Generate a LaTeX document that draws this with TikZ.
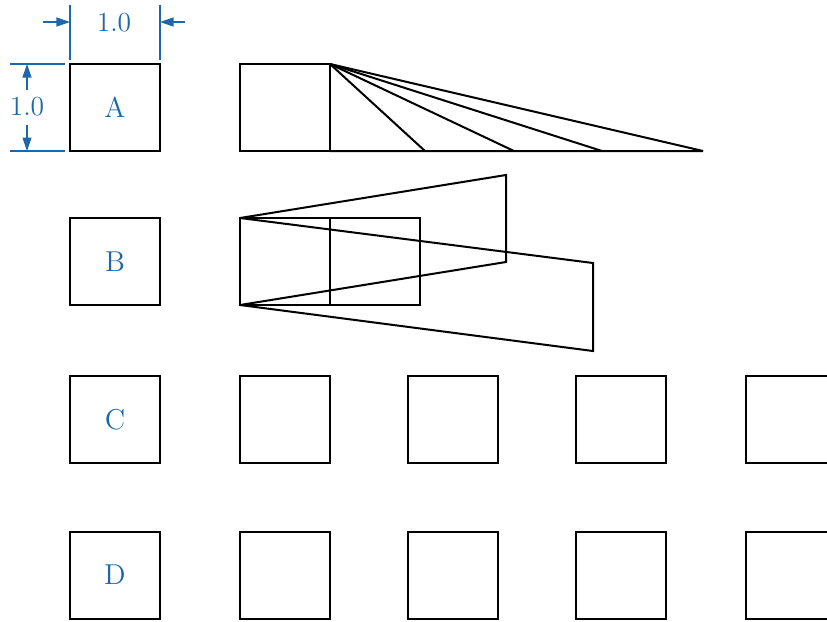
\documentclass[tikz,border=0pt]{standalone}
\usetikzlibrary{arrows.meta}
\definecolor{dimblue}{RGB}{28,104,170}
\tikzset{
  sq/.style={draw, line width=0.8pt, minimum width=36pt, minimum height=34.8pt,
    inner sep=0pt, outer sep=0pt, text=dimblue, font=\fontsize{11.5}{13}\selectfont},
  fanline/.style={line width=0.8pt},
  dimline/.style={draw=dimblue, line width=0.45pt},
  dimarrow/.style={dimline, -{Triangle[length=5.4pt,width=3.6pt]}},
  dimtext/.style={text=dimblue, font=\fontsize{11}{12}\selectfont, inner sep=1pt}
}
\begin{document}
\begin{tikzpicture}[x=0.4pt, y=-0.4pt]
    \path[use as bounding box, clip] (0,0) rectangle (827,621);

    % Row A: unit square and the fan
    \node[sq] (sqA) at (115,107.5) {A};
    \node[sq] (fanA) at (285,107.5) {};
    \foreach \x [count=\i] in {425,514,602,703}
        \coordinate (f\i) at (\x,151);
    \draw[fanline] (fanA.south east) -- (f4);
    \foreach \i in {1,...,4}
        \draw[fanline] (fanA.north east) -- (f\i);

    % Dimensions of the unit square
    \draw[dimline] ([yshift=1.6pt]sqA.north west) -- ++(0,-55);
    \draw[dimline] ([yshift=1.6pt]sqA.north east) -- ++(0,-55);
    \draw[dimarrow] ([shift={(-27,-42)}]sqA.north west) -- ++(27,0);
    \draw[dimarrow] ([shift={(25,-42)}]sqA.north east) -- ++(-25,0);
    \node[dimtext] (dimW) at (114,23) {1.0};
    \draw[dimline] ([xshift=-2pt]sqA.north west) -- ++(-55,0);
    \draw[dimline] ([xshift=-2pt]sqA.south west) -- ++(-55,0);
    \draw[dimarrow] ([shift={(-43,26)}]sqA.north west) -- ++(0,-26);
    \draw[dimarrow] ([shift={(-43,-26)}]sqA.south west) -- ++(0,26);
    \node[dimtext] (dimH) at (27,107) {1.0};

    % Row B: two squares and the two trapezoids
    \node[sq] (sqB) at (115,261.5) {B};
    \node[sq] (bL) at (285,261.5) {};
    \node[sq] (bR) at (375,261.5) {};
    \coordinate (u1) at (506,175);
    \coordinate (u2) at (506,262);
    \coordinate (l1) at (593,263);
    \coordinate (l2) at (593,351);
    \draw[fanline] (bL.north west) -- (u1) -- (u2) -- (bL.south west);
    \draw[fanline] (bL.north west) -- (l1) -- (l2) -- (bL.south west);

    % Row C
    \node[sq] (sqC) at (115,419.5) {C};
    \foreach \x [count=\i] in {285,453,621,791}
        \node[sq] (c\i) at (\x,419.5) {};

    % Row D
    \node[sq] (sqD) at (115,575) {D};
    \foreach \x [count=\i] in {285,453,621,791}
        \node[sq] (d\i) at (\x,575) {};
\end{tikzpicture}
\end{document}
